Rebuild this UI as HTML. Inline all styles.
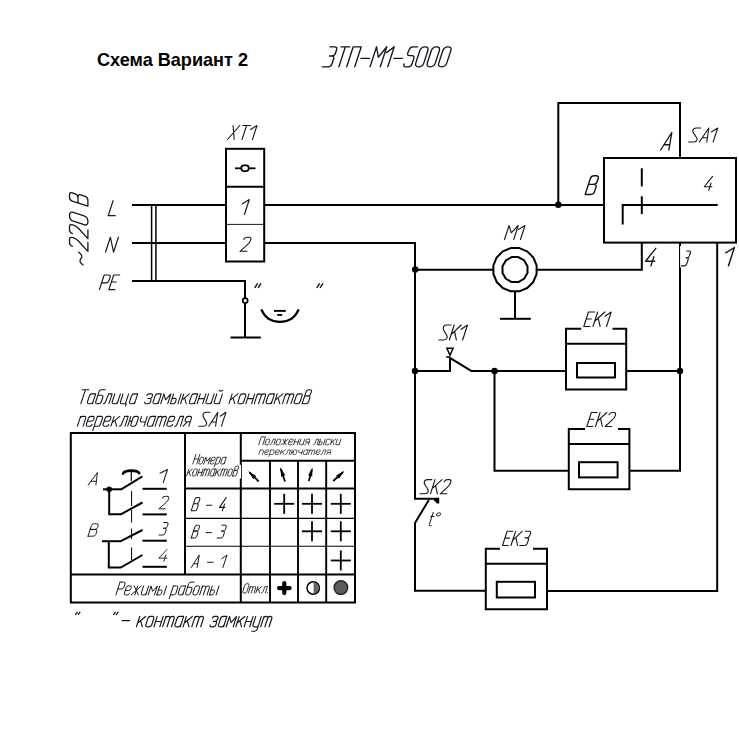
<!DOCTYPE html>
<html><head><meta charset="utf-8"><title>Schema</title>
<style>
html,body{margin:0;padding:0;background:#fff;}
body{width:739px;height:739px;overflow:hidden;font-family:"Liberation Sans",sans-serif;}
svg{display:block;}
</style></head><body>
<svg width="739" height="739" viewBox="0 0 739 739">
<rect x="0" y="0" width="739" height="739" fill="#fff"/>
<text x="97" y="65.7" font-family="Liberation Sans, sans-serif" font-weight="bold" font-size="18.2" textLength="151" lengthAdjust="spacingAndGlyphs" fill="#000">&#1057;&#1093;&#1077;&#1084;&#1072; &#1042;&#1072;&#1088;&#1080;&#1072;&#1085;&#1090; 2</text>
<line x1="132.00" y1="205.00" x2="226.00" y2="205.00" stroke="#000" stroke-width="2.00" stroke-linecap="butt"/>
<line x1="132.00" y1="243.00" x2="226.00" y2="243.00" stroke="#000" stroke-width="2.00" stroke-linecap="butt"/>
<polyline points="132.00,281.00 245.00,281.00 245.00,337.50" fill="none" stroke="#000" stroke-width="2.00" stroke-linejoin="miter" stroke-linecap="butt"/>
<line x1="230.50" y1="337.50" x2="260.80" y2="337.50" stroke="#000" stroke-width="2.00" stroke-linecap="butt"/>
<circle cx="245.20" cy="300.60" r="2.50" fill="#fff" stroke="#000" stroke-width="1.70"/>
<line x1="151.60" y1="204.00" x2="151.60" y2="282.00" stroke="#000" stroke-width="1.50" stroke-linecap="butt"/>
<line x1="155.90" y1="204.00" x2="155.90" y2="282.00" stroke="#000" stroke-width="1.50" stroke-linecap="butt"/>
<rect x="226.00" y="148.80" width="38.20" height="112.70" fill="none" stroke="#000" stroke-width="2.00"/>
<line x1="226.00" y1="186.80" x2="264.20" y2="186.80" stroke="#000" stroke-width="2.00" stroke-linecap="butt"/>
<line x1="226.00" y1="224.40" x2="264.20" y2="224.40" stroke="#000" stroke-width="0.90" stroke-linecap="butt"/>
<line x1="235.00" y1="168.30" x2="255.50" y2="168.30" stroke="#000" stroke-width="1.80" stroke-linecap="butt"/>
<rect x="241.3" y="165.4" width="7.4" height="5.8" rx="2.6" ry="2.6" fill="#fff" stroke="#000" stroke-width="1.7"/>
<path d="M261.3 309.3 Q266.5 321.8 280 321.8 Q293.5 321.8 298.7 309.3" fill="none" stroke="#000" stroke-width="2.2"/>
<line x1="274.00" y1="310.90" x2="285.80" y2="310.90" stroke="#000" stroke-width="1.90" stroke-linecap="butt"/>
<line x1="277.20" y1="315.00" x2="282.20" y2="315.00" stroke="#000" stroke-width="1.80" stroke-linecap="butt"/>
<line x1="264.20" y1="205.00" x2="604.00" y2="205.00" stroke="#000" stroke-width="2.00" stroke-linecap="butt"/>
<polyline points="558.30,205.00 558.30,103.00 680.00,103.00 680.00,158.00" fill="none" stroke="#000" stroke-width="2.00" stroke-linejoin="miter" stroke-linecap="butt"/>
<circle cx="558.30" cy="204.80" r="3.20" fill="#000"/>
<polyline points="264.20,243.00 415.00,243.00 415.00,498.80 438.70,498.80" fill="none" stroke="#000" stroke-width="2.00" stroke-linejoin="miter" stroke-linecap="butt"/>
<polygon points="432.3,498.8 439.2,497.8 439.2,503.5 437,503.5" fill="#000"/>
<rect x="604.00" y="158.00" width="132.00" height="84.60" fill="none" stroke="#000" stroke-width="2.00"/>
<polyline points="717.70,205.00 622.70,205.00 622.70,224.60" fill="none" stroke="#000" stroke-width="2.00" stroke-linejoin="miter" stroke-linecap="butt"/>
<line x1="641.80" y1="168.30" x2="641.80" y2="186.40" stroke="#000" stroke-width="2.00" stroke-linecap="butt"/>
<line x1="641.80" y1="196.30" x2="641.80" y2="214.00" stroke="#000" stroke-width="2.00" stroke-linecap="butt"/>
<line x1="415.00" y1="269.70" x2="493.00" y2="269.70" stroke="#000" stroke-width="2.00" stroke-linecap="butt"/>
<polyline points="537.00,269.70 641.80,269.70 641.80,242.60" fill="none" stroke="#000" stroke-width="2.00" stroke-linejoin="miter" stroke-linecap="butt"/>
<circle cx="415.20" cy="269.50" r="3.20" fill="#000"/>
<polygon points="519.30,248.10 527.24,251.39 533.31,257.46 536.60,265.40 536.60,274.00 533.31,281.94 527.24,288.01 519.30,291.30 510.70,291.30 502.76,288.01 496.69,281.94 493.40,274.00 493.40,265.40 496.69,257.46 502.76,251.39 510.70,248.10" fill="none" stroke="#000" stroke-width="2.00" stroke-linejoin="round"/>
<polygon points="518.35,257.10 524.15,260.45 527.50,266.25 527.50,272.95 524.15,278.75 518.35,282.10 511.65,282.10 505.85,278.75 502.50,272.95 502.50,266.25 505.85,260.45 511.65,257.10" fill="none" stroke="#000" stroke-width="2.00" stroke-linejoin="round"/>
<line x1="515.00" y1="291.50" x2="515.00" y2="318.80" stroke="#000" stroke-width="2.00" stroke-linecap="butt"/>
<line x1="500.00" y1="318.80" x2="530.80" y2="318.80" stroke="#000" stroke-width="2.00" stroke-linecap="butt"/>
<polyline points="680.00,242.60 680.00,470.80 629.40,470.80" fill="none" stroke="#000" stroke-width="2.00" stroke-linejoin="miter" stroke-linecap="butt"/>
<polyline points="717.20,242.60 717.20,591.00 547.00,591.00" fill="none" stroke="#000" stroke-width="2.00" stroke-linejoin="miter" stroke-linecap="butt"/>
<polyline points="415.00,371.00 450.00,371.00 450.00,357.00" fill="none" stroke="#000" stroke-width="2.00" stroke-linejoin="miter" stroke-linecap="butt"/>
<line x1="446.20" y1="357.00" x2="450.00" y2="357.00" stroke="#000" stroke-width="1.60" stroke-linecap="butt"/>
<line x1="449.40" y1="357.60" x2="470.80" y2="370.60" stroke="#000" stroke-width="2.00" stroke-linecap="butt"/>
<line x1="470.50" y1="371.00" x2="566.00" y2="371.00" stroke="#000" stroke-width="2.00" stroke-linecap="butt"/>
<line x1="626.20" y1="371.00" x2="680.00" y2="371.00" stroke="#000" stroke-width="2.00" stroke-linecap="butt"/>
<circle cx="415.00" cy="371.00" r="3.20" fill="#000"/>
<circle cx="494.50" cy="371.00" r="3.20" fill="#000"/>
<circle cx="680.00" cy="371.00" r="3.20" fill="#000"/>
<polyline points="446.90,348.20 453.10,348.20 450.00,355.20 446.90,348.20 453.10,348.20" fill="none" stroke="#000" stroke-width="1.50" stroke-linejoin="miter" stroke-linecap="butt"/>
<polyline points="494.50,371.00 494.50,470.80 568.80,470.80" fill="none" stroke="#000" stroke-width="2.00" stroke-linejoin="miter" stroke-linecap="butt"/>
<polyline points="581.20,328.80 566.00,328.80 566.00,389.50 626.20,389.50 626.20,328.80 612.50,328.80" fill="none" stroke="#000" stroke-width="2.00" stroke-linejoin="miter" stroke-linecap="butt"/>
<line x1="566.00" y1="343.80" x2="626.20" y2="343.80" stroke="#000" stroke-width="2.00" stroke-linecap="butt"/>
<rect x="577.00" y="363.00" width="38.00" height="14.50" fill="none" stroke="#000" stroke-width="2.00"/>
<polyline points="585.00,428.90 568.80,428.90 568.80,489.20 629.40,489.20 629.40,428.90 618.00,428.90" fill="none" stroke="#000" stroke-width="2.00" stroke-linejoin="miter" stroke-linecap="butt"/>
<line x1="568.80" y1="444.00" x2="629.40" y2="444.00" stroke="#000" stroke-width="2.00" stroke-linecap="butt"/>
<rect x="579.00" y="462.20" width="38.60" height="15.20" fill="none" stroke="#000" stroke-width="2.00"/>
<polyline points="500.00,548.80 485.80,548.80 485.80,609.20 547.00,609.20 547.00,548.80 533.00,548.80" fill="none" stroke="#000" stroke-width="2.00" stroke-linejoin="miter" stroke-linecap="butt"/>
<line x1="485.80" y1="563.80" x2="547.00" y2="563.80" stroke="#000" stroke-width="2.00" stroke-linecap="butt"/>
<rect x="496.80" y="581.80" width="38.20" height="15.70" fill="none" stroke="#000" stroke-width="2.00"/>
<line x1="428.80" y1="500.00" x2="415.00" y2="523.00" stroke="#000" stroke-width="2.00" stroke-linecap="butt"/>
<polyline points="415.00,522.50 415.00,590.80 485.80,590.80" fill="none" stroke="#000" stroke-width="2.00" stroke-linejoin="miter" stroke-linecap="butt"/>
<rect x="70.80" y="433.00" width="284.20" height="169.50" fill="none" stroke="#000" stroke-width="2.00"/>
<line x1="185.00" y1="433.00" x2="185.00" y2="574.50" stroke="#000" stroke-width="2.00" stroke-linecap="butt"/>
<line x1="240.80" y1="433.00" x2="240.80" y2="602.50" stroke="#000" stroke-width="2.00" stroke-linecap="butt"/>
<line x1="270.00" y1="460.50" x2="270.00" y2="602.50" stroke="#000" stroke-width="1.90" stroke-linecap="butt"/>
<line x1="298.00" y1="460.50" x2="298.00" y2="602.50" stroke="#000" stroke-width="1.90" stroke-linecap="butt"/>
<line x1="326.20" y1="460.50" x2="326.20" y2="602.50" stroke="#000" stroke-width="1.90" stroke-linecap="butt"/>
<line x1="240.80" y1="460.70" x2="355.00" y2="460.70" stroke="#000" stroke-width="2.00" stroke-linecap="butt"/>
<line x1="185.00" y1="488.60" x2="355.00" y2="488.60" stroke="#000" stroke-width="2.00" stroke-linecap="butt"/>
<line x1="185.00" y1="518.40" x2="355.00" y2="518.40" stroke="#000" stroke-width="1.10" stroke-linecap="butt"/>
<line x1="185.00" y1="546.20" x2="355.00" y2="546.20" stroke="#000" stroke-width="1.10" stroke-linecap="butt"/>
<line x1="70.80" y1="574.60" x2="355.00" y2="574.60" stroke="#000" stroke-width="2.00" stroke-linecap="butt"/>
<rect x="186" y="464.8" width="55" height="13.8" fill="#fff"/>
<line x1="274.20" y1="503.80" x2="294.20" y2="503.80" stroke="#000" stroke-width="1.80" stroke-linecap="butt"/>
<line x1="284.20" y1="493.80" x2="284.20" y2="513.80" stroke="#000" stroke-width="1.80" stroke-linecap="butt"/>
<line x1="302.00" y1="503.80" x2="322.00" y2="503.80" stroke="#000" stroke-width="1.80" stroke-linecap="butt"/>
<line x1="312.00" y1="493.80" x2="312.00" y2="513.80" stroke="#000" stroke-width="1.80" stroke-linecap="butt"/>
<line x1="330.80" y1="503.80" x2="350.80" y2="503.80" stroke="#000" stroke-width="1.80" stroke-linecap="butt"/>
<line x1="340.80" y1="493.80" x2="340.80" y2="513.80" stroke="#000" stroke-width="1.80" stroke-linecap="butt"/>
<line x1="302.00" y1="531.30" x2="322.00" y2="531.30" stroke="#000" stroke-width="1.80" stroke-linecap="butt"/>
<line x1="312.00" y1="521.30" x2="312.00" y2="541.30" stroke="#000" stroke-width="1.80" stroke-linecap="butt"/>
<line x1="330.80" y1="531.30" x2="350.80" y2="531.30" stroke="#000" stroke-width="1.80" stroke-linecap="butt"/>
<line x1="340.80" y1="521.30" x2="340.80" y2="541.30" stroke="#000" stroke-width="1.80" stroke-linecap="butt"/>
<line x1="330.80" y1="560.50" x2="350.80" y2="560.50" stroke="#000" stroke-width="1.80" stroke-linecap="butt"/>
<line x1="340.80" y1="550.50" x2="340.80" y2="570.50" stroke="#000" stroke-width="1.80" stroke-linecap="butt"/>
<line x1="249.52" y1="472.41" x2="258.70" y2="481.50" stroke="#000" stroke-width="1.80" stroke-linecap="butt"/>
<polygon points="248.10,471.00 253.19,479.00 256.15,476.02" fill="#000"/>
<line x1="280.83" y1="469.00" x2="285.00" y2="481.50" stroke="#000" stroke-width="1.80" stroke-linecap="butt"/>
<polygon points="280.20,467.10 281.18,476.69 285.17,475.36" fill="#000"/>
<line x1="311.97" y1="469.43" x2="308.80" y2="481.00" stroke="#000" stroke-width="1.80" stroke-linecap="butt"/>
<polygon points="312.50,467.50 308.18,475.31 312.23,476.43" fill="#000"/>
<line x1="343.02" y1="472.14" x2="333.20" y2="481.00" stroke="#000" stroke-width="1.80" stroke-linecap="butt"/>
<polygon points="344.50,470.80 336.09,475.57 338.90,478.68" fill="#000"/>
<line x1="279.00" y1="588.10" x2="289.60" y2="588.10" stroke="#000" stroke-width="4.20" stroke-linecap="round"/>
<line x1="284.30" y1="583.10" x2="284.30" y2="593.10" stroke="#000" stroke-width="4.20" stroke-linecap="round"/>
<circle cx="313.20" cy="588.00" r="6.20" fill="#fff" stroke="#000" stroke-width="1.50"/>
<path d="M313.6 582.4 A5.7 5.7 0 0 1 313.6 593.6 Z" fill="#666"/>
<circle cx="340.90" cy="587.60" r="6.80" fill="#5a5a5a" stroke="#222" stroke-width="1.40"/>
<line x1="103.00" y1="489.30" x2="122.00" y2="489.30" stroke="#000" stroke-width="2.00" stroke-linecap="butt"/>
<line x1="121.20" y1="489.30" x2="142.40" y2="476.30" stroke="#000" stroke-width="2.00" stroke-linecap="butt"/>
<circle cx="109.20" cy="489.30" r="2.80" fill="#000"/>
<polyline points="109.20,489.50 109.20,514.30 121.20,514.30" fill="none" stroke="#000" stroke-width="2.00" stroke-linejoin="miter" stroke-linecap="butt"/>
<line x1="120.80" y1="514.30" x2="142.50" y2="502.50" stroke="#000" stroke-width="2.00" stroke-linecap="butt"/>
<polyline points="102.00,541.20 121.20,541.20" fill="none" stroke="#000" stroke-width="2.00" stroke-linejoin="miter" stroke-linecap="butt"/>
<line x1="120.80" y1="541.20" x2="142.50" y2="530.00" stroke="#000" stroke-width="2.00" stroke-linecap="butt"/>
<polyline points="108.80,541.20 108.80,567.50 121.20,567.50" fill="none" stroke="#000" stroke-width="2.00" stroke-linejoin="miter" stroke-linecap="butt"/>
<line x1="120.80" y1="567.50" x2="142.50" y2="555.00" stroke="#000" stroke-width="2.00" stroke-linecap="butt"/>
<line x1="142.50" y1="488.80" x2="166.80" y2="488.80" stroke="#000" stroke-width="2.00" stroke-linecap="butt"/>
<line x1="142.50" y1="514.40" x2="166.80" y2="514.40" stroke="#000" stroke-width="2.00" stroke-linecap="butt"/>
<line x1="142.50" y1="540.70" x2="166.80" y2="540.70" stroke="#000" stroke-width="2.00" stroke-linecap="butt"/>
<line x1="142.50" y1="566.80" x2="166.80" y2="566.80" stroke="#000" stroke-width="2.00" stroke-linecap="butt"/>
<path d="M123 473.6 Q124.5 470.6 131.2 470.6 Q137.6 470.6 139.2 473.2" fill="none" stroke="#000" stroke-width="2.6" stroke-linecap="round"/>
<line x1="131.30" y1="470.30" x2="131.30" y2="481.00" stroke="#000" stroke-width="1.20" stroke-linecap="butt"/>
<line x1="131.60" y1="491.00" x2="131.60" y2="506.00" stroke="#000" stroke-width="1.00" stroke-linecap="butt"/>
<line x1="131.60" y1="510.00" x2="131.60" y2="522.50" stroke="#000" stroke-width="1.00" stroke-linecap="butt"/>
<line x1="131.60" y1="528.50" x2="131.60" y2="539.00" stroke="#000" stroke-width="1.00" stroke-linecap="butt"/>
<line x1="131.60" y1="547.50" x2="131.60" y2="560.50" stroke="#000" stroke-width="1.00" stroke-linecap="butt"/>
<rect x="680.1" y="246" width="12" height="21.5" fill="#fff"/>
<path d="M329.89 46.80 L334.82 46.80 Q337.55 46.80 336.58 49.80 L335.54 53.00 Q334.56 56.00 331.83 56.00 L329.46 56.00 M329.46 56.00 L331.83 56.00 Q334.56 56.00 333.59 59.00 L332.03 63.80 Q331.05 66.80 328.32 66.80 L322.30 66.80 M341.02 46.80 L349.77 46.80 M345.39 46.80 L338.89 66.80 M346.73 66.80 L353.23 46.80 Q353.23 46.80 353.23 46.80 L361.26 46.80 Q361.26 46.80 361.26 46.80 L354.76 66.80 M360.95 58.40 L369.34 58.40 M370.07 66.80 L376.57 46.80 Q376.57 46.80 376.57 46.80 L378.30 57.20 Q378.30 57.20 378.30 57.20 L386.78 46.80 Q386.78 46.80 386.78 46.80 L380.29 66.80 M386.54 52.60 L394.26 46.80 Q394.26 46.80 394.26 46.80 L387.76 66.80 M393.96 58.40 L402.34 58.40 M417.60 46.80 L413.04 46.80 Q410.31 46.80 409.09 49.79 L407.94 52.61 Q406.72 55.60 409.45 55.60 L412.01 55.60 Q414.74 55.60 413.77 58.60 L412.08 63.80 Q411.10 66.80 408.37 66.80 L405.63 66.80 Q403.08 66.80 403.99 64.00 L403.99 64.00 M417.82 56.80 L419.70 51.00 Q421.07 46.80 424.90 46.80 L425.26 46.80 Q429.09 46.80 427.72 51.00 L423.96 62.60 Q422.59 66.80 418.76 66.80 L418.40 66.80 Q414.57 66.80 415.93 62.60 L417.82 56.80 M429.30 56.80 L431.19 51.00 Q432.55 46.80 436.38 46.80 L436.75 46.80 Q440.58 46.80 439.21 51.00 L435.44 62.60 Q434.08 66.80 430.25 66.80 L429.88 66.80 Q426.06 66.80 427.42 62.60 L429.30 56.80 M440.79 56.80 L442.68 51.00 Q444.04 46.80 447.87 46.80 L448.24 46.80 Q452.06 46.80 450.70 51.00 L446.93 62.60 Q445.57 66.80 441.74 66.80 L441.37 66.80 Q437.54 66.80 438.91 62.60 L440.79 56.80" fill="none" stroke="#15151f" stroke-width="1.35" stroke-linecap="round" stroke-linejoin="round"/>
<path d="M227.50 139.50 L239.73 125.50 M233.01 125.50 L234.22 139.50 M242.77 125.50 L250.44 125.50 M246.60 125.50 L242.05 139.50 M250.56 129.56 L257.00 125.50 Q257.00 125.50 257.00 125.50 L252.45 139.50" fill="none" stroke="#15151f" stroke-width="1.09" stroke-linecap="round" stroke-linejoin="round"/>
<path d="M242.50 203.85 L249.30 199.50 Q249.30 199.50 249.30 199.50 L244.43 214.50" fill="none" stroke="#15151f" stroke-width="1.17" stroke-linecap="round" stroke-linejoin="round"/>
<path d="M243.82 239.54 L243.82 239.54 Q244.55 237.30 247.09 237.30 L248.99 237.30 Q251.53 237.30 250.80 239.54 L250.53 240.38 Q249.80 242.62 247.71 244.43 L240.00 251.30 L246.98 251.30" fill="none" stroke="#15151f" stroke-width="1.09" stroke-linecap="round" stroke-linejoin="round"/>
<path d="M113.07 200.70 L108.20 215.70 Q108.20 215.70 108.20 215.70 L115.20 215.70" fill="none" stroke="#15151f" stroke-width="1.17" stroke-linecap="round" stroke-linejoin="round"/>
<path d="M105.50 252.20 L110.37 237.20 Q110.37 237.20 110.37 237.20 L113.53 252.20 Q113.53 252.20 113.53 252.20 L118.40 237.20" fill="none" stroke="#15151f" stroke-width="1.17" stroke-linecap="round" stroke-linejoin="round"/>
<path d="M99.40 289.60 L104.14 275.00 M104.14 275.00 L108.52 275.00 Q110.79 275.00 110.08 277.19 L108.94 280.69 Q108.23 282.88 105.96 282.88 L101.58 282.88 M119.70 275.00 L113.66 275.00 Q113.66 275.00 113.66 275.00 L108.91 289.60 Q108.91 289.60 108.91 289.60 L114.96 289.60 M111.38 282.01 L116.21 282.01" fill="none" stroke="#15151f" stroke-width="1.14" stroke-linecap="round" stroke-linejoin="round"/>
<line x1="254.80" y1="287.80" x2="257.70" y2="283.30" stroke="#15151f" stroke-width="1.50" stroke-linecap="butt"/>
<line x1="258.10" y1="287.80" x2="261.00" y2="283.30" stroke="#15151f" stroke-width="1.50" stroke-linecap="butt"/>
<line x1="316.80" y1="287.80" x2="319.70" y2="283.30" stroke="#15151f" stroke-width="1.50" stroke-linecap="butt"/>
<line x1="320.10" y1="287.80" x2="323.00" y2="283.30" stroke="#15151f" stroke-width="1.50" stroke-linecap="butt"/>
<path d="M504.50 239.50 L509.05 225.50 Q509.05 225.50 509.05 225.50 L511.29 232.78 Q511.29 232.78 511.29 232.78 L518.26 225.50 Q518.26 225.50 518.26 225.50 L513.71 239.50 M518.42 229.56 L525.00 225.50 Q525.00 225.50 525.00 225.50 L520.45 239.50" fill="none" stroke="#15151f" stroke-width="1.09" stroke-linecap="round" stroke-linejoin="round"/>
<path d="M660.60 150.00 L671.80 132.50 Q671.80 132.50 671.80 132.50 L668.87 150.00 M664.03 144.75 L669.72 144.75" fill="none" stroke="#15151f" stroke-width="1.36" stroke-linecap="round" stroke-linejoin="round"/>
<path d="M700.61 128.00 L696.10 128.00 Q693.46 128.00 692.84 130.38 Q692.59 131.64 693.42 132.90 L696.65 137.80 Q697.54 139.34 696.67 140.60 Q695.59 142.00 693.57 142.00 L688.60 142.00 M699.32 142.00 L708.84 128.00 Q708.84 128.00 708.84 128.00 L706.78 142.00 M702.24 137.80 L707.37 137.80 M711.41 132.06 L717.70 128.00 Q717.70 128.00 717.70 128.00 L713.15 142.00" fill="none" stroke="#15151f" stroke-width="1.09" stroke-linecap="round" stroke-linejoin="round"/>
<path d="M585.20 194.40 L590.34 178.59 Q591.24 175.80 594.12 175.80 L596.23 175.80 Q599.11 175.80 598.20 178.59 L597.23 181.57 Q596.33 184.36 593.45 184.36 L588.46 184.36 M588.46 184.36 L594.03 184.36 Q596.90 184.36 596.00 187.15 L594.54 191.61 Q593.64 194.40 590.76 194.40 L585.20 194.40" fill="none" stroke="#15151f" stroke-width="1.45" stroke-linecap="round" stroke-linejoin="round"/>
<path d="M712.60 176.40 L704.30 186.76 Q704.30 186.76 704.30 186.76 L711.86 186.76 M711.07 183.12 L708.71 190.40" fill="none" stroke="#15151f" stroke-width="1.09" stroke-linecap="round" stroke-linejoin="round"/>
<path d="M655.80 248.30 L645.60 261.25 Q645.60 261.25 645.60 261.25 L654.79 261.25 M653.87 256.70 L650.91 265.80" fill="none" stroke="#15151f" stroke-width="1.36" stroke-linecap="round" stroke-linejoin="round"/>
<path d="M686.80 251.00 L689.45 251.00 Q690.92 251.00 690.20 253.22 L689.43 255.59 Q688.71 257.81 687.24 257.81 L685.96 257.81 M685.96 257.81 L687.24 257.81 Q688.71 257.81 687.99 260.03 L686.83 263.58 Q686.11 265.80 684.64 265.80 L681.40 265.80" fill="none" stroke="#15151f" stroke-width="1.15" stroke-linecap="round" stroke-linejoin="round"/>
<path d="M725.80 252.81 L734.40 247.50 Q734.40 247.50 734.40 247.50 L728.45 265.80" fill="none" stroke="#15151f" stroke-width="1.43" stroke-linecap="round" stroke-linejoin="round"/>
<path d="M451.00 325.00 L446.58 325.00 Q443.98 325.00 443.30 327.55 Q443.02 328.90 443.80 330.25 L446.83 335.50 Q447.67 337.15 446.77 338.50 Q445.67 340.00 443.69 340.00 L438.80 340.00 M454.21 325.00 L449.34 340.00 M461.24 325.00 L451.09 334.60 M454.61 331.30 L456.36 340.00 M461.20 329.35 L467.50 325.00 Q467.50 325.00 467.50 325.00 L462.63 340.00" fill="none" stroke="#15151f" stroke-width="1.17" stroke-linecap="round" stroke-linejoin="round"/>
<path d="M594.73 312.00 L588.51 312.00 Q588.51 312.00 588.51 312.00 L583.80 326.50 Q583.80 326.50 583.80 326.50 L590.02 326.50 M586.25 318.96 L591.22 318.96 M597.68 312.00 L592.97 326.50 M604.83 312.00 L594.66 321.28 M598.19 318.09 L600.12 326.50 M604.86 316.20 L611.20 312.00 Q611.20 312.00 611.20 312.00 L606.49 326.50" fill="none" stroke="#15151f" stroke-width="1.13" stroke-linecap="round" stroke-linejoin="round"/>
<path d="M597.27 412.50 L591.35 412.50 Q591.35 412.50 591.35 412.50 L586.80 426.50 Q586.80 426.50 586.80 426.50 L592.72 426.50 M589.17 419.22 L593.90 419.22 M600.09 412.50 L595.54 426.50 M606.90 412.50 L597.17 421.46 M600.55 418.38 L602.35 426.50 M608.98 414.74 L608.98 414.74 Q609.71 412.50 612.08 412.50 L613.86 412.50 Q616.23 412.50 615.50 414.74 L615.23 415.58 Q614.50 417.82 612.51 419.63 L605.16 426.50 L611.68 426.50" fill="none" stroke="#15151f" stroke-width="1.09" stroke-linecap="round" stroke-linejoin="round"/>
<path d="M512.85 531.30 L507.11 531.30 Q507.11 531.30 507.11 531.30 L502.50 545.50 Q502.50 545.50 502.50 545.50 L508.23 545.50 M504.90 538.12 L509.49 538.12 M515.57 531.30 L510.96 545.50 M522.16 531.30 L512.62 540.39 M515.93 537.26 L517.55 545.50 M525.17 531.30 L529.04 531.30 Q531.19 531.30 530.50 533.43 L529.76 535.70 Q529.07 537.83 526.92 537.83 L525.06 537.83 M525.06 537.83 L526.92 537.83 Q529.07 537.83 528.38 539.96 L527.27 543.37 Q526.58 545.50 524.43 545.50 L519.70 545.50" fill="none" stroke="#15151f" stroke-width="1.11" stroke-linecap="round" stroke-linejoin="round"/>
<path d="M431.87 479.60 L427.49 479.60 Q424.92 479.60 424.28 482.01 Q424.02 483.29 424.81 484.57 L427.89 489.54 Q428.74 491.10 427.87 492.38 Q426.81 493.80 424.84 493.80 L420.00 493.80 M435.05 479.60 L430.44 493.80 M442.01 479.60 L432.10 488.69 M435.53 485.56 L437.39 493.80 M444.14 481.87 L444.14 481.87 Q444.88 479.60 447.30 479.60 L449.12 479.60 Q451.54 479.60 450.80 481.87 L450.52 482.72 Q449.78 485.00 447.76 486.83 L440.27 493.80 L446.92 493.80" fill="none" stroke="#15151f" stroke-width="1.11" stroke-linecap="round" stroke-linejoin="round"/>
<path d="M433.22 512.40 L429.30 524.46 Q428.86 525.80 430.27 525.80 L431.25 525.80 M430.65 516.42 L434.02 516.42 M436.63 514.41 L436.67 514.28 Q437.11 512.94 438.51 512.94 L439.63 512.94 Q441.04 512.94 440.60 514.28 L440.51 514.54 Q440.08 515.88 438.68 515.88 L437.55 515.88 Q436.15 515.88 436.59 514.54 L436.63 514.41" fill="none" stroke="#15151f" stroke-width="1.00" stroke-linecap="round" stroke-linejoin="round"/>
<path d="M82.10 389.70 L88.80 389.70 M85.45 389.70 L80.90 403.70 M95.67 393.90 L92.04 393.90 Q90.09 393.90 89.45 395.86 L87.54 401.74 Q86.90 403.70 88.86 403.70 L90.53 403.70 Q92.49 403.70 93.13 401.74 L93.13 401.74 M95.67 393.90 L92.49 403.70 M105.28 389.70 L101.65 389.70 Q99.69 389.70 99.05 391.66 L95.78 401.74 Q95.14 403.70 97.10 403.70 L98.77 403.70 Q100.73 403.70 101.36 401.74 L102.82 397.26 Q103.46 395.30 101.50 395.30 L97.87 395.30 M103.38 403.70 Q104.78 403.70 105.55 401.74 L108.66 393.90 L112.15 393.90 L108.96 403.70 M114.80 393.90 L112.25 401.74 Q111.62 403.70 113.57 403.70 L115.25 403.70 Q117.20 403.70 117.84 401.74 L117.84 401.74 M120.39 393.90 L117.20 403.70 M123.04 393.90 L120.49 401.74 Q119.86 403.70 121.81 403.70 L126.28 403.70 L125.55 405.94 M128.62 393.90 L125.44 403.70 M137.70 393.90 L134.07 393.90 Q132.12 393.90 131.48 395.86 L129.57 401.74 Q128.93 403.70 130.89 403.70 L132.56 403.70 Q134.52 403.70 135.15 401.74 L135.15 401.74 M137.70 393.90 L134.52 403.70" fill="none" stroke="#15151f" stroke-width="1.09" stroke-linecap="round" stroke-linejoin="round"/>
<path d="M146.89 395.58 L146.89 395.58 Q147.44 393.90 149.12 393.90 L151.08 393.90 Q153.04 393.90 152.40 395.86 L152.17 396.56 Q151.53 398.52 149.58 398.52 L147.90 398.52 M147.90 398.52 L149.58 398.52 Q151.53 398.52 150.90 400.48 L150.49 401.74 Q149.85 403.70 147.89 403.70 L145.93 403.70 Q144.25 403.70 144.80 402.02 L144.80 402.02 M161.29 393.90 L157.65 393.90 Q155.69 393.90 155.06 395.86 L153.15 401.74 Q152.51 403.70 154.47 403.70 L156.15 403.70 Q158.11 403.70 158.74 401.74 L158.74 401.74 M161.29 393.90 L158.11 403.70 M160.76 403.70 L163.95 393.90 Q163.95 393.90 163.95 393.90 L165.54 399.78 Q165.54 399.78 165.54 399.78 L170.95 393.90 Q170.95 393.90 170.95 393.90 L167.76 403.70 M173.60 393.90 L170.42 403.70 M172.15 398.38 L174.95 398.38 Q176.63 398.38 176.08 400.06 L175.44 402.02 Q174.90 403.70 173.22 403.70 L170.42 403.70 M181.16 393.90 L177.98 403.70 M183.82 393.90 L180.63 403.70 M189.42 393.90 L181.82 400.06 M184.60 397.96 L186.23 403.70 M197.67 393.90 L194.03 393.90 Q192.07 393.90 191.44 395.86 L189.53 401.74 Q188.89 403.70 190.85 403.70 L192.53 403.70 Q194.49 403.70 195.12 401.74 L195.12 401.74 M197.67 393.90 L194.49 403.70 M200.33 393.90 L197.14 403.70 M205.93 393.90 L202.74 403.70 M198.78 398.66 L204.38 398.66 M208.58 393.90 L206.04 401.74 Q205.40 403.70 207.36 403.70 L209.04 403.70 Q211.00 403.70 211.63 401.74 L211.63 401.74 M214.18 393.90 L211.00 403.70 M216.84 393.90 L214.29 401.74 Q213.66 403.70 215.61 403.70 L217.29 403.70 Q219.25 403.70 219.89 401.74 L219.89 401.74 M222.44 393.90 L219.25 403.70 M219.42 390.26 Q220.18 392.22 222.50 390.26" fill="none" stroke="#15151f" stroke-width="1.09" stroke-linecap="round" stroke-linejoin="round"/>
<path d="M232.18 393.90 L229.00 403.70 M237.90 393.90 L230.18 400.06 M233.01 397.96 L234.72 403.70 M239.03 398.80 L239.98 395.86 Q240.62 393.90 242.62 393.90 L244.34 393.90 Q246.34 393.90 245.70 395.86 L243.79 401.74 Q243.15 403.70 241.15 403.70 L239.44 403.70 Q237.43 403.70 238.07 401.74 L239.03 398.80 M249.05 393.90 L245.87 403.70 M254.77 393.90 L251.59 403.70 M247.51 398.66 L253.23 398.66 M254.30 403.70 L257.49 393.90 M256.85 395.86 L256.85 395.86 Q257.49 393.90 259.49 393.90 L259.78 393.90 Q261.78 393.90 261.14 395.86 L258.59 403.70 M261.14 395.86 L261.14 395.86 Q261.78 393.90 263.78 393.90 L264.07 393.90 Q266.07 393.90 265.43 395.86 L262.88 403.70 M274.50 393.90 L270.78 393.90 Q268.78 393.90 268.15 395.86 L266.24 401.74 Q265.60 403.70 267.60 403.70 L269.32 403.70 Q271.32 403.70 271.95 401.74 L271.95 401.74 M274.50 393.90 L271.32 403.70 M277.22 393.90 L274.03 403.70 M282.94 393.90 L275.22 400.06 M278.04 397.96 L279.75 403.70 M282.47 403.70 L285.65 393.90 M285.02 395.86 L285.02 395.86 Q285.65 393.90 287.65 393.90 L287.94 393.90 Q289.94 393.90 289.31 395.86 L286.76 403.70 M289.31 395.86 L289.31 395.86 Q289.94 393.90 291.94 393.90 L292.23 393.90 Q294.23 393.90 293.59 395.86 L291.05 403.70 M295.36 398.80 L296.31 395.86 Q296.95 393.90 298.95 393.90 L300.66 393.90 Q302.67 393.90 302.03 395.86 L300.12 401.74 Q299.48 403.70 297.48 403.70 L295.76 403.70 Q293.76 403.70 294.40 401.74 L295.36 398.80 M302.20 403.70 L306.11 391.66 Q306.75 389.70 308.75 389.70 L310.04 389.70 Q312.04 389.70 311.40 391.66 L310.67 393.90 Q310.04 395.86 308.03 395.86 L304.75 395.86 M304.75 395.86 L308.46 395.86 Q310.46 395.86 309.83 397.82 L308.55 401.74 Q307.92 403.70 305.92 403.70 L302.20 403.70" fill="none" stroke="#15151f" stroke-width="1.09" stroke-linecap="round" stroke-linejoin="round"/>
<path d="M77.40 426.20 L80.58 416.40 M79.95 418.36 L79.95 418.36 Q80.58 416.40 82.57 416.40 L84.28 416.40 Q86.27 416.40 85.63 418.36 L83.09 426.20 M87.38 421.30 L91.08 421.30 Q93.07 421.30 93.70 419.34 L94.02 418.36 Q94.66 416.40 92.67 416.40 L90.96 416.40 Q88.97 416.40 88.33 418.36 L86.42 424.24 Q85.79 426.20 87.78 426.20 L89.77 426.20 Q91.47 426.20 92.02 424.52 L92.02 424.52 M92.81 430.40 L97.36 416.40 M97.36 416.40 L101.06 416.40 Q103.05 416.40 102.41 418.36 L100.50 424.24 Q99.86 426.20 97.87 426.20 L94.17 426.20 M104.15 421.30 L107.85 421.30 Q109.84 421.30 110.48 419.34 L110.80 418.36 Q111.43 416.40 109.44 416.40 L107.74 416.40 Q105.75 416.40 105.11 418.36 L103.20 424.24 Q102.56 426.20 104.55 426.20 L106.54 426.20 Q108.25 426.20 108.79 424.52 L108.79 424.52 M114.13 416.40 L110.95 426.20 M119.82 416.40 L112.13 422.56 M114.95 420.46 L116.64 426.20 M119.34 426.20 Q120.76 426.20 121.54 424.24 L124.65 416.40 L128.21 416.40 L125.02 426.20 M130.91 416.40 L127.72 426.20 M129.36 421.16 L131.92 421.16 M131.88 421.30 L132.83 418.36 Q133.47 416.40 135.46 416.40 L136.88 416.40 Q138.87 416.40 138.23 418.36 L136.32 424.24 Q135.69 426.20 133.69 426.20 L132.27 426.20 Q130.28 426.20 130.92 424.24 L131.88 421.30 M141.57 416.40 L140.39 420.04 Q139.75 422.00 141.74 422.00 L145.44 422.00 M147.26 416.40 L144.07 426.20 M155.64 416.40 L151.95 416.40 Q149.96 416.40 149.32 418.36 L147.41 424.24 Q146.77 426.20 148.76 426.20 L150.47 426.20 Q152.46 426.20 153.10 424.24 L153.10 424.24 M155.64 416.40 L152.46 426.20 M155.16 426.20 L158.35 416.40 M157.71 418.36 L157.71 418.36 Q158.35 416.40 160.34 416.40 L160.62 416.40 Q162.61 416.40 161.97 418.36 L159.43 426.20 M161.97 418.36 L161.97 418.36 Q162.61 416.40 164.60 416.40 L164.88 416.40 Q166.87 416.40 166.24 418.36 L163.69 426.20 M167.98 421.30 L171.68 421.30 Q173.67 421.30 174.31 419.34 L174.63 418.36 Q175.26 416.40 173.27 416.40 L171.57 416.40 Q169.58 416.40 168.94 418.36 L167.03 424.24 Q166.39 426.20 168.38 426.20 L170.37 426.20 Q172.08 426.20 172.62 424.52 L172.62 424.52 M174.78 426.20 Q176.20 426.20 176.98 424.24 L180.10 416.40 L183.65 416.40 L180.47 426.20 M188.85 426.20 L191.40 418.36 Q192.04 416.40 190.05 416.40 L188.34 416.40 Q186.35 416.40 185.71 418.36 L185.26 419.76 Q184.62 421.72 186.61 421.72 L190.31 421.72 M187.47 421.72 L183.17 426.20" fill="none" stroke="#15151f" stroke-width="1.09" stroke-linecap="round" stroke-linejoin="round"/>
<path d="M210.23 412.20 L206.07 412.20 Q203.64 412.20 203.01 414.58 Q202.74 415.84 203.48 417.10 L206.33 422.00 Q207.12 423.54 206.28 424.80 Q205.25 426.20 203.39 426.20 L198.80 426.20 M208.69 426.20 L217.83 412.20 Q217.83 412.20 217.83 412.20 L215.57 426.20 M211.49 422.00 L216.22 422.00 M220.09 416.26 L226.00 412.20 Q226.00 412.20 226.00 412.20 L221.45 426.20" fill="none" stroke="#15151f" stroke-width="1.09" stroke-linecap="round" stroke-linejoin="round"/>
<path d="M88.20 485.00 L97.40 472.50 Q97.40 472.50 97.40 472.50 L95.91 485.00 M91.02 481.25 L96.32 481.25" fill="none" stroke="#15151f" stroke-width="0.97" stroke-linecap="round" stroke-linejoin="round"/>
<path d="M88.00 536.20 L91.45 525.58 Q92.06 523.70 94.53 523.70 L96.34 523.70 Q98.81 523.70 98.20 525.58 L97.55 527.58 Q96.94 529.45 94.47 529.45 L90.19 529.45 M90.19 529.45 L94.97 529.45 Q97.43 529.45 96.83 531.33 L95.85 534.33 Q95.24 536.20 92.77 536.20 L88.00 536.20" fill="none" stroke="#15151f" stroke-width="0.97" stroke-linecap="round" stroke-linejoin="round"/>
<path d="M160.00 473.27 L167.50 469.50 Q167.50 469.50 167.50 469.50 L163.27 482.50" fill="none" stroke="#15151f" stroke-width="1.01" stroke-linecap="round" stroke-linejoin="round"/>
<path d="M162.21 498.30 L162.21 498.30 Q162.86 496.30 165.26 496.30 L167.05 496.30 Q169.45 496.30 168.80 498.30 L168.56 499.05 Q167.91 501.05 165.97 502.66 L158.80 508.80 L165.39 508.80" fill="none" stroke="#15151f" stroke-width="0.97" stroke-linecap="round" stroke-linejoin="round"/>
<path d="M163.75 522.50 L166.88 522.50 Q168.61 522.50 168.00 524.38 L167.35 526.38 Q166.74 528.25 165.01 528.25 L163.50 528.25 M163.50 528.25 L165.01 528.25 Q166.74 528.25 166.13 530.12 L165.16 533.12 Q164.55 535.00 162.81 535.00 L159.00 535.00" fill="none" stroke="#15151f" stroke-width="0.97" stroke-linecap="round" stroke-linejoin="round"/>
<path d="M166.99 549.40 L158.80 558.13 Q158.80 558.13 158.80 558.13 L167.00 558.13 M165.86 555.06 L163.86 561.20" fill="none" stroke="#15151f" stroke-width="0.92" stroke-linecap="round" stroke-linejoin="round"/>
<path d="M192.80 464.00 L195.92 454.40 M196.74 464.00 L199.85 454.40 M194.42 459.01 L198.36 459.01 M199.53 460.64 L200.18 458.62 Q200.62 457.28 201.87 457.28 L202.94 457.28 Q204.20 457.28 203.76 458.62 L202.45 462.66 Q202.01 464.00 200.76 464.00 L199.69 464.00 Q198.44 464.00 198.87 462.66 L199.53 460.64 M203.71 464.00 L205.90 457.28 Q205.90 457.28 205.90 457.28 L206.82 461.31 Q206.82 461.31 206.82 461.31 L210.37 457.28 Q210.37 457.28 210.37 457.28 L208.18 464.00 M210.98 460.64 L213.30 460.64 Q214.55 460.64 214.99 459.30 L215.21 458.62 Q215.65 457.28 214.39 457.28 L213.32 457.28 Q212.07 457.28 211.63 458.62 L210.32 462.66 Q209.88 464.00 211.14 464.00 L212.39 464.00 Q213.46 464.00 213.84 462.85 L213.84 462.85 M214.23 466.88 L217.34 457.28 M217.34 457.28 L219.67 457.28 Q220.92 457.28 220.49 458.62 L219.18 462.66 Q218.74 464.00 217.49 464.00 L215.16 464.00 M226.20 457.28 L223.87 457.28 Q222.62 457.28 222.19 458.62 L220.88 462.66 Q220.44 464.00 221.69 464.00 L222.76 464.00 Q224.02 464.00 224.45 462.66 L224.45 462.66 M226.20 457.28 L224.02 464.00" fill="none" stroke="#15151f" stroke-width="0.85" stroke-linecap="round" stroke-linejoin="round"/>
<path d="M188.87 469.00 L186.60 476.00 M192.46 469.00 L187.44 473.40 M189.28 471.90 L190.19 476.00 M193.03 472.50 L193.71 470.40 Q194.16 469.00 195.42 469.00 L196.49 469.00 Q197.75 469.00 197.29 470.40 L195.93 474.60 Q195.47 476.00 194.22 476.00 L193.14 476.00 Q191.89 476.00 192.34 474.60 L193.03 472.50 M199.45 469.00 L197.18 476.00 M203.04 469.00 L200.76 476.00 M198.35 472.40 L201.93 472.40 M202.46 476.00 L204.74 469.00 M204.28 470.40 L204.28 470.40 Q204.74 469.00 205.99 469.00 L206.17 469.00 Q207.43 469.00 206.97 470.40 L205.15 476.00 M206.97 470.40 L206.97 470.40 Q207.43 469.00 208.68 469.00 L208.86 469.00 Q210.12 469.00 209.66 470.40 L207.84 476.00 M215.40 469.00 L213.07 469.00 Q211.82 469.00 211.36 470.40 L210.00 474.60 Q209.54 476.00 210.80 476.00 L211.88 476.00 Q213.13 476.00 213.58 474.60 L213.58 474.60 M215.40 469.00 L213.13 476.00 M217.11 469.00 L214.83 476.00 M220.69 469.00 L215.68 473.40 M217.51 471.90 L218.42 476.00 M220.12 476.00 L222.40 469.00 M221.94 470.40 L221.94 470.40 Q222.40 469.00 223.65 469.00 L223.83 469.00 Q225.08 469.00 224.63 470.40 L222.81 476.00 M224.63 470.40 L224.63 470.40 Q225.08 469.00 226.34 469.00 L226.52 469.00 Q227.77 469.00 227.32 470.40 L225.50 476.00 M228.34 472.50 L229.02 470.40 Q229.48 469.00 230.73 469.00 L231.81 469.00 Q233.06 469.00 232.61 470.40 L231.24 474.60 Q230.79 476.00 229.53 476.00 L228.46 476.00 Q227.20 476.00 227.66 474.60 L228.34 472.50 M232.49 476.00 L235.28 467.40 Q235.74 466.00 236.99 466.00 L237.80 466.00 Q239.05 466.00 238.60 467.40 L238.08 469.00 Q237.63 470.40 236.37 470.40 L234.31 470.40 M234.31 470.40 L236.64 470.40 Q237.89 470.40 237.44 471.80 L236.53 474.60 Q236.07 476.00 234.82 476.00 L232.49 476.00" fill="none" stroke="#15151f" stroke-width="0.85" stroke-linecap="round" stroke-linejoin="round"/>
<path d="M191.20 510.80 L194.85 499.58 Q195.49 497.60 197.26 497.60 L198.56 497.60 Q200.33 497.60 199.69 499.58 L199.00 501.69 Q198.36 503.67 196.59 503.67 L193.52 503.67 M193.52 503.67 L196.94 503.67 Q198.71 503.67 198.07 505.65 L197.04 508.82 Q196.40 510.80 194.63 510.80 L191.20 510.80 M206.47 505.26 L211.90 505.26 M226.20 497.60 L219.48 507.37 Q219.48 507.37 219.48 507.37 L224.92 507.37 M224.61 503.94 L222.38 510.80" fill="none" stroke="#15151f" stroke-width="1.03" stroke-linecap="round" stroke-linejoin="round"/>
<path d="M191.20 538.00 L194.74 527.12 Q195.36 525.20 197.08 525.20 L198.34 525.20 Q200.07 525.20 199.44 527.12 L198.78 529.17 Q198.15 531.09 196.43 531.09 L193.45 531.09 M193.45 531.09 L196.78 531.09 Q198.50 531.09 197.87 533.01 L196.88 536.08 Q196.25 538.00 194.53 538.00 L191.20 538.00 M206.04 532.62 L211.32 532.62 M222.00 525.20 L225.10 525.20 Q226.82 525.20 226.20 527.12 L225.53 529.17 Q224.91 531.09 223.19 531.09 L221.70 531.09 M221.70 531.09 L223.19 531.09 Q224.91 531.09 224.29 533.01 L223.29 536.08 Q222.66 538.00 220.94 538.00 L217.15 538.00" fill="none" stroke="#15151f" stroke-width="1.00" stroke-linecap="round" stroke-linejoin="round"/>
<path d="M191.20 567.50 L199.23 555.00 Q199.23 555.00 199.23 555.00 L197.15 567.50 M193.66 563.75 L197.75 563.75 M207.54 562.25 L213.24 562.25 M221.85 558.62 L227.00 555.00 Q227.00 555.00 227.00 555.00 L222.94 567.50" fill="none" stroke="#15151f" stroke-width="0.97" stroke-linecap="round" stroke-linejoin="round"/>
<path d="M258.70 444.80 L261.30 436.80 Q261.30 436.80 261.30 436.80 L265.41 436.80 Q265.41 436.80 265.41 436.80 L262.81 444.80 M265.49 442.00 L266.03 440.32 Q266.40 439.20 267.70 439.20 L268.82 439.20 Q270.13 439.20 269.77 440.32 L268.68 443.68 Q268.31 444.80 267.01 444.80 L265.89 444.80 Q264.58 444.80 264.94 443.68 L265.49 442.00 M270.08 444.80 Q271.02 444.80 271.48 443.68 L273.30 439.20 L275.64 439.20 L273.82 444.80 M276.50 442.00 L277.05 440.32 Q277.41 439.20 278.72 439.20 L279.84 439.20 Q281.14 439.20 280.78 440.32 L279.69 443.68 Q279.32 444.80 278.02 444.80 L276.90 444.80 Q275.59 444.80 275.95 443.68 L276.50 442.00 M285.53 439.20 L283.71 444.80 M282.92 439.20 L284.62 442.00 Q284.62 442.00 284.62 442.00 L281.10 444.80 M288.14 439.20 L284.62 442.00 Q284.62 442.00 284.62 442.00 L286.32 444.80 M289.00 442.00 L291.43 442.00 Q292.74 442.00 293.10 440.88 L293.28 440.32 Q293.65 439.20 292.34 439.20 L291.22 439.20 Q289.91 439.20 289.55 440.32 L288.46 443.68 Q288.09 444.80 289.40 444.80 L290.71 444.80 Q291.83 444.80 292.14 443.84 L292.14 443.84 M295.42 439.20 L293.60 444.80 M299.15 439.20 L297.33 444.80 M294.54 441.92 L298.27 441.92 M300.93 439.20 L299.47 443.68 Q299.11 444.80 300.41 444.80 L301.53 444.80 Q302.84 444.80 303.20 443.68 L303.20 443.68 M304.66 439.20 L302.84 444.80 M308.34 444.80 L309.80 440.32 Q310.16 439.20 308.86 439.20 L307.74 439.20 Q306.43 439.20 306.07 440.32 L305.81 441.12 Q305.44 442.24 306.75 442.24 L309.18 442.24 M307.31 442.24 L304.61 444.80" fill="none" stroke="#15151f" stroke-width="0.80" stroke-linecap="round" stroke-linejoin="round"/>
<path d="M313.50 444.80 Q314.38 444.80 314.83 443.68 L316.64 439.20 L318.85 439.20 L317.03 444.80 M320.52 439.20 L318.70 444.80 M319.69 441.76 L321.46 441.76 Q322.51 441.76 322.20 442.72 L321.84 443.84 Q321.53 444.80 320.47 444.80 L318.70 444.80 M325.29 439.20 L323.47 444.80 M330.18 440.16 L330.18 440.16 Q330.49 439.20 329.43 439.20 L328.20 439.20 Q326.96 439.20 326.60 440.32 L325.51 443.68 Q325.14 444.80 326.38 444.80 L327.61 444.80 Q328.67 444.80 328.98 443.84 L328.98 443.84 M332.17 439.20 L330.35 444.80 M335.70 439.20 L331.02 442.72 M332.74 441.52 L333.88 444.80 M337.37 439.20 L335.92 443.68 Q335.55 444.80 336.79 444.80 L337.85 444.80 Q339.08 444.80 339.44 443.68 L339.44 443.68 M340.90 439.20 L339.08 444.80" fill="none" stroke="#15151f" stroke-width="0.80" stroke-linecap="round" stroke-linejoin="round"/>
<path d="M258.80 454.50 L260.28 449.95 M259.98 450.86 L259.98 450.86 Q260.28 449.95 261.55 449.95 L262.63 449.95 Q263.90 449.95 263.61 450.86 L262.42 454.50 M264.88 452.23 L267.24 452.23 Q268.51 452.23 268.80 451.31 L268.95 450.86 Q269.25 449.95 267.98 449.95 L266.89 449.95 Q265.62 449.95 265.33 450.86 L264.44 453.59 Q264.14 454.50 265.41 454.50 L266.68 454.50 Q267.77 454.50 268.02 453.72 L268.02 453.72 M268.86 456.45 L270.97 449.95 M270.97 449.95 L273.32 449.95 Q274.59 449.95 274.29 450.86 L273.41 453.59 Q273.11 454.50 271.84 454.50 L269.49 454.50 M275.57 452.23 L277.93 452.23 Q279.20 452.23 279.49 451.31 L279.64 450.86 Q279.93 449.95 278.67 449.95 L277.58 449.95 Q276.31 449.95 276.02 450.86 L275.13 453.59 Q274.83 454.50 276.10 454.50 L277.37 454.50 Q278.46 454.50 278.71 453.72 L278.71 453.72 M281.66 449.95 L280.18 454.50 M285.28 449.95 L280.73 452.81 M282.40 451.83 L283.80 454.50 M285.52 454.50 Q286.43 454.50 286.81 453.59 L288.36 449.95 L290.62 449.95 L289.15 454.50 M292.34 449.95 L290.87 454.50 M291.63 452.16 L293.26 452.16 M293.24 452.23 L293.68 450.86 Q293.98 449.95 295.24 449.95 L296.15 449.95 Q297.42 449.95 297.12 450.86 L296.23 453.59 Q295.94 454.50 294.67 454.50 L293.77 454.50 Q292.50 454.50 292.79 453.59 L293.24 452.23 M299.14 449.95 L298.59 451.64 Q298.29 452.55 299.56 452.55 L301.92 452.55 M302.76 449.95 L301.28 454.50 M308.11 449.95 L305.75 449.95 Q304.48 449.95 304.19 450.86 L303.30 453.59 Q303.00 454.50 304.27 454.50 L305.36 454.50 Q306.63 454.50 306.92 453.59 L306.92 453.59 M308.11 449.95 L306.63 454.50 M308.35 454.50 L309.83 449.95 M309.53 450.86 L309.53 450.86 Q309.83 449.95 311.10 449.95 L311.28 449.95 Q312.54 449.95 312.25 450.86 L311.07 454.50 M312.25 450.86 L312.25 450.86 Q312.54 449.95 313.81 449.95 L313.99 449.95 Q315.26 449.95 314.97 450.86 L313.78 454.50 M316.24 452.23 L318.60 452.23 Q319.87 452.23 320.16 451.31 L320.31 450.86 Q320.61 449.95 319.34 449.95 L318.25 449.95 Q316.98 449.95 316.69 450.86 L315.80 453.59 Q315.51 454.50 316.77 454.50 L318.04 454.50 Q319.13 454.50 319.38 453.72 L319.38 453.72 M320.85 454.50 Q321.76 454.50 322.14 453.59 L323.69 449.95 L325.95 449.95 L324.47 454.50 M329.82 454.50 L331.00 450.86 Q331.30 449.95 330.03 449.95 L328.94 449.95 Q327.67 449.95 327.38 450.86 L327.17 451.51 Q326.87 452.42 328.14 452.42 L330.49 452.42 M328.68 452.42 L326.19 454.50" fill="none" stroke="#15151f" stroke-width="0.70" stroke-linecap="round" stroke-linejoin="round"/>
<path d="M115.90 594.90 L120.06 582.10 M120.06 582.10 L123.72 582.10 Q125.61 582.10 124.98 584.02 L123.99 587.09 Q123.36 589.01 121.47 589.01 L117.81 589.01 M125.30 590.42 L128.58 590.42 Q130.34 590.42 130.93 588.63 L131.22 587.73 Q131.80 585.94 130.03 585.94 L128.52 585.94 Q126.76 585.94 126.17 587.73 L124.43 593.11 Q123.84 594.90 125.61 594.90 L127.37 594.90 Q128.89 594.90 129.39 593.36 L129.39 593.36 M137.73 585.94 L134.81 594.90 M134.19 585.94 L136.27 590.42 Q136.27 590.42 136.27 590.42 L131.28 594.90 M141.26 585.94 L136.27 590.42 Q136.27 590.42 136.27 590.42 L138.34 594.90 M143.65 585.94 L141.32 593.11 Q140.74 594.90 142.51 594.90 L144.02 594.90 Q145.78 594.90 146.37 593.11 L146.37 593.11 M148.69 585.94 L145.78 594.90 M148.18 594.90 L151.09 585.94 Q151.09 585.94 151.09 585.94 L152.50 591.32 Q152.50 591.32 152.50 591.32 L157.40 585.94 Q157.40 585.94 157.40 585.94 L154.48 594.90 M159.79 585.94 L156.88 594.90 M158.46 590.04 L160.98 590.04 Q162.50 590.04 162.00 591.57 L161.41 593.36 Q160.91 594.90 159.40 594.90 L156.88 594.90 M166.60 585.94 L163.69 594.90" fill="none" stroke="#15151f" stroke-width="1.00" stroke-linecap="round" stroke-linejoin="round"/>
<path d="M169.20 598.74 L173.36 585.94 M173.36 585.94 L176.57 585.94 Q178.31 585.94 177.72 587.73 L175.98 593.11 Q175.40 594.90 173.66 594.90 L170.45 594.90 M185.60 585.94 L182.39 585.94 Q180.66 585.94 180.07 587.73 L178.33 593.11 Q177.75 594.90 179.48 594.90 L180.96 594.90 Q182.69 594.90 183.28 593.11 L183.28 593.11 M185.60 585.94 L182.69 594.90 M194.15 582.10 L190.93 582.10 Q189.20 582.10 188.62 583.89 L185.63 593.11 Q185.04 594.90 186.77 594.90 L188.26 594.90 Q189.99 594.90 190.57 593.11 L191.90 589.01 Q192.49 587.22 190.75 587.22 L187.54 587.22 M193.80 590.42 L194.67 587.73 Q195.25 585.94 196.98 585.94 L198.47 585.94 Q200.20 585.94 199.62 587.73 L197.87 593.11 Q197.29 594.90 195.56 594.90 L194.07 594.90 Q192.34 594.90 192.92 593.11 L193.80 590.42 M199.64 594.90 L202.55 585.94 M201.97 587.73 L201.97 587.73 Q202.55 585.94 204.28 585.94 L204.53 585.94 Q206.26 585.94 205.68 587.73 L203.35 594.90 M205.68 587.73 L205.68 587.73 Q206.26 585.94 207.99 585.94 L208.24 585.94 Q209.97 585.94 209.39 587.73 L207.06 594.90 M212.32 585.94 L209.41 594.90 M210.99 590.04 L213.46 590.04 Q214.95 590.04 214.45 591.57 L213.87 593.36 Q213.37 594.90 211.88 594.90 L209.41 594.90 M219.00 585.94 L216.09 594.90" fill="none" stroke="#15151f" stroke-width="1.00" stroke-linecap="round" stroke-linejoin="round"/>
<path d="M243.80 588.35 L244.79 585.28 Q245.31 583.70 246.93 583.70 L247.89 583.70 Q249.52 583.70 249.00 585.28 L247.01 591.42 Q246.50 593.00 244.87 593.00 L243.91 593.00 Q242.29 593.00 242.80 591.42 L243.80 588.35 M248.31 593.00 L250.43 586.49 M250.01 587.79 L250.01 587.79 Q250.43 586.49 251.77 586.49 L251.96 586.49 Q253.30 586.49 252.88 587.79 L251.18 593.00 M252.88 587.79 L252.88 587.79 Q253.30 586.49 254.64 586.49 L254.83 586.49 Q256.17 586.49 255.75 587.79 L254.05 593.00 M257.99 586.49 L255.87 593.00 M261.81 586.49 L256.66 590.58 M258.55 589.19 L259.70 593.00 M261.52 593.00 Q262.47 593.00 262.99 591.70 L265.07 586.49 L267.46 586.49 L265.34 593.00 M267.16 593.00 L267.60 592.53" fill="none" stroke="#15151f" stroke-width="0.85" stroke-linecap="round" stroke-linejoin="round"/>
<line x1="75.30" y1="614.90" x2="77.50" y2="611.90" stroke="#15151f" stroke-width="1.30" stroke-linecap="butt"/>
<line x1="78.00" y1="614.90" x2="80.20" y2="611.90" stroke="#15151f" stroke-width="1.30" stroke-linecap="butt"/>
<line x1="113.40" y1="614.90" x2="115.60" y2="611.90" stroke="#15151f" stroke-width="1.30" stroke-linecap="butt"/>
<line x1="116.10" y1="614.90" x2="118.30" y2="611.90" stroke="#15151f" stroke-width="1.30" stroke-linecap="butt"/>
<path d="M122.00 620.58 L129.60 620.58" fill="none" stroke="#15151f" stroke-width="1.15" stroke-linecap="round" stroke-linejoin="round"/>
<path d="M139.77 616.44 L136.40 626.80 M145.69 616.44 L137.65 622.95 M140.59 620.73 L142.33 626.80 M146.83 621.62 L147.84 618.51 Q148.51 616.44 150.58 616.44 L152.36 616.44 Q154.44 616.44 153.76 618.51 L151.74 624.73 Q151.07 626.80 148.99 626.80 L147.22 626.80 Q145.14 626.80 145.82 624.73 L146.83 621.62 M157.25 616.44 L153.88 626.80 M163.18 616.44 L159.81 626.80 M155.62 621.47 L161.54 621.47 M162.63 626.80 L165.99 616.44 M165.32 618.51 L165.32 618.51 Q165.99 616.44 168.07 616.44 L168.36 616.44 Q170.44 616.44 169.76 618.51 L167.07 626.80 M169.76 618.51 L169.76 618.51 Q170.44 616.44 172.51 616.44 L172.81 616.44 Q174.88 616.44 174.21 618.51 L171.52 626.80 M183.63 616.44 L179.77 616.44 Q177.70 616.44 177.03 618.51 L175.01 624.73 Q174.33 626.80 176.41 626.80 L178.18 626.80 Q180.26 626.80 180.93 624.73 L180.93 624.73 M183.63 616.44 L180.26 626.80 M186.44 616.44 L183.07 626.80 M192.37 616.44 L184.32 622.95 M187.27 620.73 L189.00 626.80 M191.82 626.80 L195.18 616.44 M194.51 618.51 L194.51 618.51 Q195.18 616.44 197.26 616.44 L197.55 616.44 Q199.63 616.44 198.95 618.51 L196.26 626.80 M198.95 618.51 L198.95 618.51 Q199.63 616.44 201.70 616.44 L202.00 616.44 Q204.07 616.44 203.40 618.51 L200.71 626.80" fill="none" stroke="#15151f" stroke-width="1.15" stroke-linecap="round" stroke-linejoin="round"/>
<path d="M212.41 618.22 L212.41 618.22 Q212.99 616.44 214.67 616.44 L216.64 616.44 Q218.60 616.44 217.93 618.51 L217.69 619.25 Q217.01 621.32 215.05 621.32 L213.37 621.32 M213.37 621.32 L215.05 621.32 Q217.01 621.32 216.34 623.40 L215.91 624.73 Q215.23 626.80 213.27 626.80 L211.31 626.80 Q209.62 626.80 210.20 625.02 L210.20 625.02 M226.88 616.44 L223.23 616.44 Q221.27 616.44 220.59 618.51 L218.57 624.73 Q217.90 626.80 219.86 626.80 L221.55 626.80 Q223.51 626.80 224.19 624.73 L224.19 624.73 M226.88 616.44 L223.51 626.80 M226.18 626.80 L229.54 616.44 Q229.54 616.44 229.54 616.44 L231.03 622.66 Q231.03 622.66 231.03 622.66 L236.56 616.44 Q236.56 616.44 236.56 616.44 L233.19 626.80 M239.22 616.44 L235.86 626.80 M244.84 616.44 L237.11 622.95 M239.93 620.73 L241.47 626.80 M247.50 616.44 L244.13 626.80 M253.11 616.44 L249.75 626.80 M245.87 621.47 L251.48 621.47 M255.78 616.44 L253.09 624.73 Q252.41 626.80 254.38 626.80 L258.02 626.80 M261.39 616.44 L257.25 629.17 Q256.58 631.24 254.62 631.24 L251.81 631.24 M260.69 626.80 L264.06 616.44 M263.38 618.51 L263.38 618.51 Q264.06 616.44 266.02 616.44 L266.30 616.44 Q268.26 616.44 267.59 618.51 L264.90 626.80 M267.59 618.51 L267.59 618.51 Q268.26 616.44 270.23 616.44 L270.51 616.44 Q272.47 616.44 271.80 618.51 L269.11 626.80" fill="none" stroke="#15151f" stroke-width="1.15" stroke-linecap="round" stroke-linejoin="round"/>
<path id="rot" d="M83.12 265.00 Q78.33 261.63 80.91 258.63 Q83.48 255.63 78.70 252.25 M72.44 246.38 L72.44 246.38 Q69.50 245.43 69.50 242.20 L69.50 239.77 Q69.50 236.54 72.44 237.50 L73.55 237.86 Q76.49 238.81 78.87 241.49 L87.90 251.41 L87.90 242.52 M72.44 233.66 L72.44 233.66 Q69.50 232.70 69.50 229.47 L69.50 227.05 Q69.50 223.82 72.44 224.77 L73.55 225.13 Q76.49 226.09 78.87 228.77 L87.90 238.68 L87.90 229.79 M78.70 222.97 L73.36 221.23 Q69.50 219.98 69.50 215.74 L69.50 215.33 Q69.50 211.09 73.36 212.35 L84.04 215.81 Q87.90 217.07 87.90 221.31 L87.90 221.72 Q87.90 225.96 84.04 224.70 L78.70 222.97 M87.90 206.16 L72.26 201.08 Q69.50 200.18 69.50 197.15 L69.50 194.93 Q69.50 191.90 72.26 192.80 L75.20 193.76 Q77.96 194.65 77.96 197.68 L77.96 202.93 M77.96 202.93 L77.96 197.08 Q77.96 194.05 80.72 194.94 L85.14 196.38 Q87.90 197.28 87.90 200.31 L87.90 206.16" fill="none" stroke="#15151f" stroke-width="1.3" stroke-linecap="round" stroke-linejoin="round"/>
</svg>
</body></html>
